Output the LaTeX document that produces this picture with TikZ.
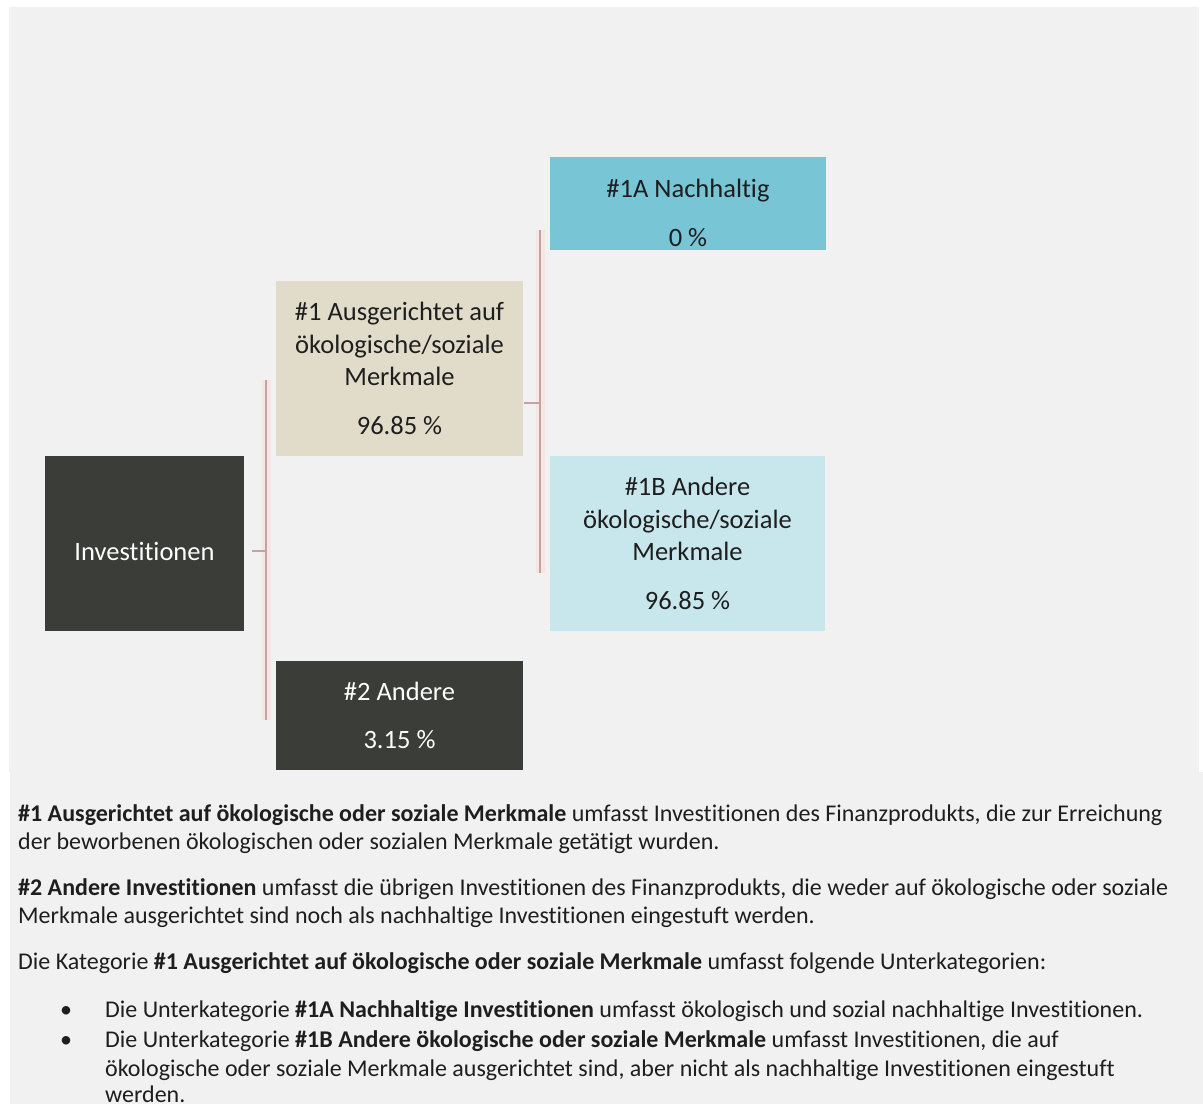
\documentclass[tikz,border=0pt]{standalone}
\usepackage{fontspec}
\setmainfont{Carlito}[Ligatures=NoCommon]
\definecolor{bg}{HTML}{F1F1F1}
\definecolor{darkbox}{HTML}{3B3D39}
\definecolor{beige}{HTML}{E1DCCA}
\definecolor{teal}{HTML}{78C5D5}
\definecolor{lightteal}{HTML}{C8E7ED}
\definecolor{connector}{HTML}{C4A2A3}
\definecolor{glowc}{HTML}{F5E6E3}
\definecolor{bodytext}{HTML}{1E1E1E}
\newcommand{\boxfont}{\fontsize{26.5}{32.5}\selectfont}
\newcommand{\bodyfont}{\fontsize{24}{28}\selectfont}
\begin{document}
\begin{tikzpicture}[x=1pt,y=-1pt,
  catbox/.style={inner sep=0pt, align=center, font=\boxfont},
  darkcat/.style={catbox, fill=darkbox, text=white},
  beigecat/.style={catbox, fill=beige, text=bodytext},
  tealcat/.style={catbox, fill=teal, text=bodytext},
  ltealcat/.style={catbox, fill=lightteal, text=bodytext},
  boxlabel/.style={inner sep=0pt, align=center, font=\boxfont},
  glowline/.style={draw=glowc, line width=9pt},
  conline/.style={draw=connector, line width=1.6pt},
  bodyline/.style={anchor=base west, inner sep=0pt, font=\bodyfont, text=bodytext},
  bulletmark/.style={anchor=base west, inner sep=0pt, font=\bodyfont, text=bodytext}
]
\useasboundingbox (0,0) rectangle (1203,1104);
\fill[white] (0,0) rectangle (1203,1104);
\fill[bg] (9,7) rectangle (1199,772);
\fill[bg] (10,772) rectangle (1203,1104);

% connector geometry
\coordinate (v1t) at (266,380);
\coordinate (v1b) at (266,720);
\coordinate (v1m) at (266,551);
\coordinate (t1) at (252,551);
\coordinate (v2t) at (540,230);
\coordinate (v2b) at (540,573);
\coordinate (v2m) at (540,403);
\coordinate (t2) at (524,403);

\draw[glowline] (v1t) -- (v1b);
\draw[glowline] (v2t) -- (v2b);

% boxes
\node[darkcat, minimum width=199pt, minimum height=175pt] (inv) at (144.5,543.5) {};
\node[boxlabel, text=white] (invtext) at (144.5,551) {Investitionen};
\node[beigecat, minimum width=247pt, minimum height=175pt] (c1) at (399.5,368.5)
  {\#1 Ausgerichtet auf\\ ökologische/soziale\\ Merkmale\\[16pt] 96.85 \%};
\node[darkcat, minimum width=247pt, minimum height=109pt] (c2) at (399.5,715.5)
  {\#2 Andere\\[16pt] 3.15 \%};
\node[tealcat, minimum width=276pt, minimum height=93pt] (c1a) at (688,203.5) {};
\node[boxlabel, text=bodytext] (c1atext) at (688,213)
  {\#1A Nachhaltig\\[16pt] 0 \%};
\node[ltealcat, minimum width=275pt, minimum height=175pt] (c1b) at (687.5,543.5)
  {\#1B Andere\\ ökologische/soziale\\ Merkmale\\[16pt] 96.85 \%};

% connectors
\draw[conline] (v1t) -- (v1b);
\draw[conline] (t1) -- (v1m);
\draw[conline] (v2t) -- (v2b);
\draw[conline] (t2) -- (v2m);

% body text
\node[bodyline] (p1a) at (18,821) {\textbf{\#1 Ausgerichtet auf ökologische oder soziale Merkmale} umfasst Investitionen des Finanzprodukts, die zur Erreichung};
\node[bodyline] (p1b) at (18,849) {der beworbenen ökologischen oder sozialen Merkmale getätigt wurden.};
\node[bodyline] (p2a) at (18,895) {\textbf{\#2 Andere Investitionen} umfasst die übrigen Investitionen des Finanzprodukts, die weder auf ökologische oder soziale};
\node[bodyline] (p2b) at (18,923) {Merkmale ausgerichtet sind noch als nachhaltige Investitionen eingestuft werden.};
\node[bodyline] (p3) at (18,969) {Die Kategorie \textbf{\#1 Ausgerichtet auf ökologische oder soziale Merkmale} umfasst folgende Unterkategorien:};
\node[bulletmark] (b1) at (60,1017) {\textbullet};
\node[bodyline] (l1) at (105,1017) {Die Unterkategorie \textbf{\#1A Nachhaltige Investitionen} umfasst ökologisch und sozial nachhaltige Investitionen.};
\node[bulletmark] (b2) at (60,1047) {\textbullet};
\node[bodyline] (l2a) at (105,1047) {Die Unterkategorie \textbf{\#1B Andere ökologische oder soziale Merkmale} umfasst Investitionen, die auf};
\node[bodyline] (l2b) at (105,1076) {ökologische oder soziale Merkmale ausgerichtet sind, aber nicht als nachhaltige Investitionen eingestuft};
\node[bodyline] (l2c) at (105,1102) {werden.};
\end{tikzpicture}
\end{document}
